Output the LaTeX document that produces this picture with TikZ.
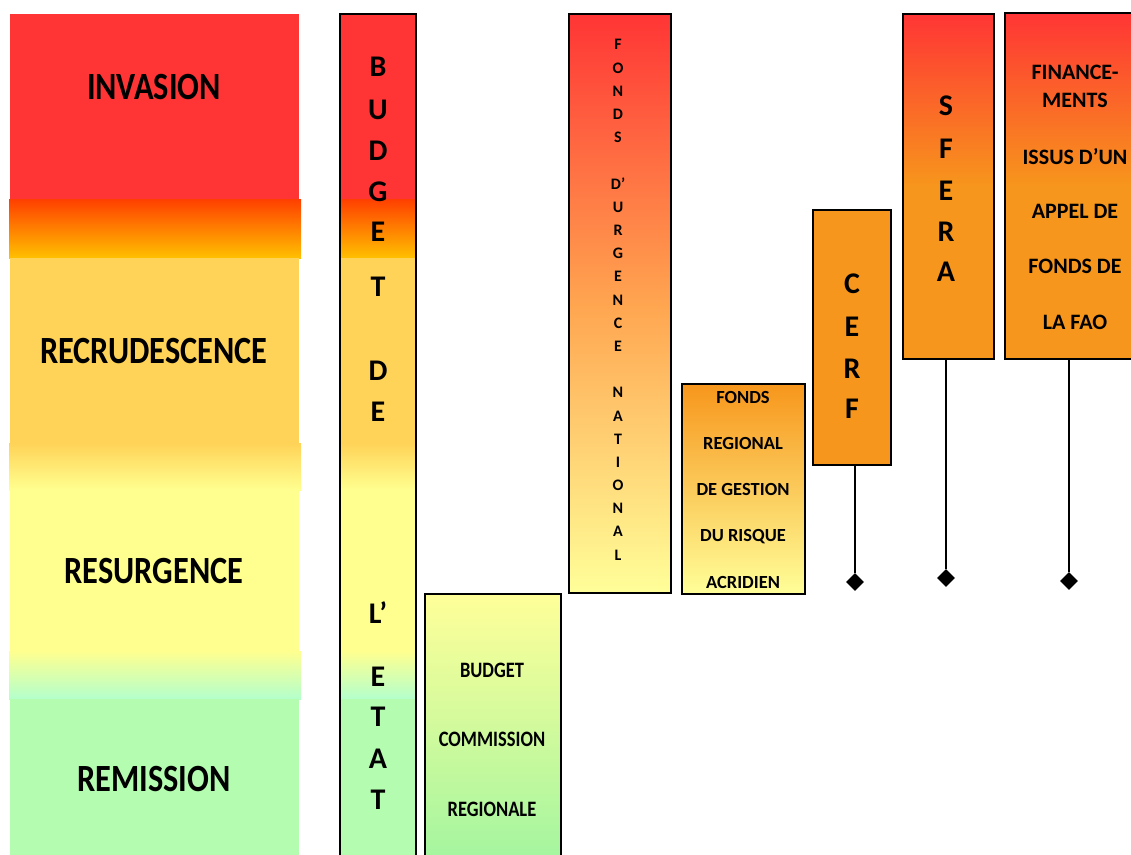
\documentclass[tikz,border=0pt]{standalone}
\usepackage{fontspec}
\setmainfont{Carlito}
\newfontfamily\narrowfont{Carlito}[FakeStretch=0.84]
\usetikzlibrary{shapes.geometric}

\definecolor{invred}{HTML}{FF3535}
\definecolor{hotred}{HTML}{FF3F00}
\definecolor{amber}{HTML}{FFC000}
\definecolor{recyel}{HTML}{FFD357}
\definecolor{resyel}{HTML}{FFFF90}
\definecolor{mint}{HTML}{B3FFCC}
\definecolor{remgrn}{HTML}{B3FCB0}
\definecolor{fundorg}{HTML}{F7961C}
\definecolor{urgorg}{HTML}{FFA550}
\definecolor{paleyel}{HTML}{FFFF99}
\definecolor{palegrn}{HTML}{A0F5A0}

\tikzset{
  phase/.style={font=\narrowfont\bfseries\fontsize{38.5}{40}\selectfont, inner sep=0pt, text depth=0pt},
  bigletter/.style={font=\bfseries\fontsize{30}{32}\selectfont, inner sep=0pt, text depth=0pt},
  tinyletter/.style={font=\bfseries\fontsize{16}{18}\selectfont, inner sep=0pt, text depth=0pt},
  regtext/.style={font=\bfseries\fontsize{18.5}{20}\selectfont, inner sep=0pt, text depth=0pt},
  comtext/.style={font=\narrowfont\bfseries\fontsize{22}{24}\selectfont, inner sep=0pt, text depth=0pt},
  faotext/.style={font=\bfseries\fontsize{22}{24}\selectfont, inner sep=0pt, text depth=0pt},
  fundbox/.style={draw=black, line width=1.3pt, inner sep=0pt},
  endmark/.style={diamond, fill=black, inner sep=0pt, minimum size=18pt},
  stem/.style={line width=1.3pt}
}

% phase bands: left, right, left and right of the blended strips
\newcommand{\phasebands}[4]{%
  \fill[invred] (#1,-14) rectangle (#2,-199);
  \shade[top color=hotred, bottom color=amber] (#3,-199) rectangle (#4,-258);
  \fill[recyel] (#1,-258) rectangle (#2,-443);
  \shade[top color=recyel, bottom color=resyel] (#3,-443) rectangle (#4,-490);
  \fill[resyel] (#1,-490) rectangle (#2,-651);
  \shade[top color=resyel, bottom color=mint] (#3,-651) rectangle (#4,-699);
  \fill[remgrn] (#1,-699) rectangle (#2,-870);
}

\begin{document}
\begin{tikzpicture}[x=1pt,y=1pt]
\useasboundingbox (0,0) rectangle (1131,-854);

% phases of the locust situation
\phasebands{10}{299}{9}{301}
\node[phase] (invasion) at (154,-87) {INVASION};
\node[phase] (recrud) at (154,-351) {RECRUDESCENCE};
\node[phase] (resurg) at (154,-571) {RESURGENCE};
\node[phase] (remission) at (154,-779) {REMISSION};

% budget de l'etat
\begin{scope}
  \clip (340,-14) rectangle (416,-870);
  \phasebands{340}{416}{340}{416}
\end{scope}
\draw[line width=1.3pt] (340,-14) rectangle (416,-870);
\foreach \ch/\y [count=\i] in {B/67,U/110,D/151,G/192,E/232,T/287,D/371,E/412,L’/613,E/677,T/717,A/759,T/800}
  \node[bigletter] (etat\i) at (378,-\y) {\ch};

% budget commission regionale
\node[fundbox, minimum width=136pt, minimum height=276pt,
  top color=paleyel, bottom color=palegrn] (commission) at (493,-732) {};
\node[comtext] (comtxt1) at (492,-670) {BUDGET};
\node[comtext] (comtxt2) at (492,-739) {COMMISSION};
\node[comtext] (comtxt3) at (492,-809) {REGIONALE};

% fonds d'urgence national
\node[fundbox, minimum width=102pt, minimum height=579pt,
  top color=invred, bottom color=paleyel, middle color=urgorg] (urgence) at (620,-303.5) {};
\foreach \ch/\y [count=\i] in {F/44,O/68,N/91,D/114,S/137,D’/184,U/207,R/230,G/253,E/276,N/300,C/323,E/346,N/392,A/416,T/439,I/462,O/485,N/508,A/531,L/555}
  \node[tinyletter] (urg\i) at (618,-\y) {\ch};

% fonds regional
\node[fundbox, minimum width=123pt, minimum height=210pt,
  top color=fundorg, bottom color=paleyel] (regional) at (743.5,-489) {};
\foreach \t/\y [count=\i] in {FONDS/397,REGIONAL/443,DE GESTION/489,DU RISQUE/535,ACRIDIEN/582}
  \node[regtext] (reg\i) at (743,-\y) {\t};

% cerf
\node[fundbox, minimum width=78pt, minimum height=255pt, fill=fundorg] (cerf) at (852,-337.5) {};
\foreach \ch/\y [count=\i] in {C/284,E/327,R/369,F/409}
  \node[bigletter] (cerf\i) at (852,-\y) {\ch};

% sfera
\node[fundbox, minimum width=91pt, minimum height=345pt,
  top color=invred, bottom color=fundorg, middle color=fundorg] (sfera) at (948.5,-186.5) {};
\foreach \ch/\y [count=\i] in {S/106,F/149,E/191,R/232,A/272}
  \node[bigletter] (sfera\i) at (946,-\y) {\ch};

% financements fao
\node[fundbox, minimum width=140pt, minimum height=346pt,
  top color=invred, bottom color=fundorg, middle color=fundorg] (fao) at (1075,-186) {};
\foreach \t/\y [count=\i] in {FINANCE-/72,MENTS/100,ISSUS D’UN/156,APPEL DE/211,FONDS DE/266,LA FAO/322}
  \node[faotext] (fao\i) at (1075,-\y) {\t};

% stems
\node[endmark] (cerfend) at (855,-582) {};
\node[endmark] (sferaend) at (946,-578) {};
\node[endmark] (faoend) at (1069,-581) {};
\draw[stem] (cerf.south -| cerfend) -- (cerfend);
\draw[stem] (sfera.south -| sferaend) -- (sferaend);
\draw[stem] (fao.south -| faoend) -- (faoend);
\end{tikzpicture}
\end{document}
